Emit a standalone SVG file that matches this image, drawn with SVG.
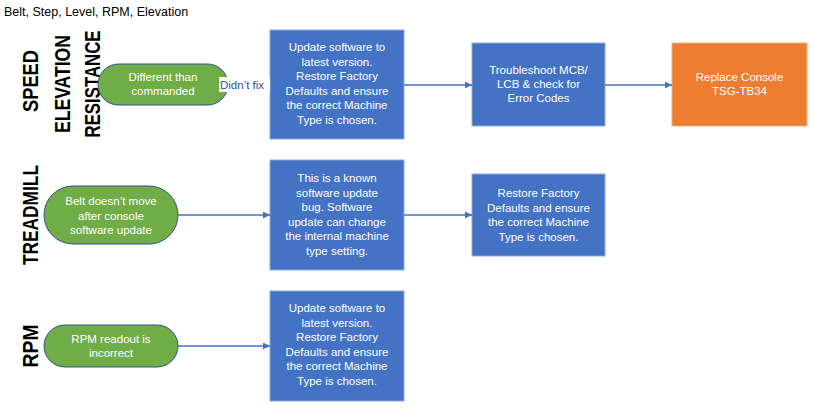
<svg xmlns="http://www.w3.org/2000/svg" width="814" height="411" viewBox="0 0 814 411">
<style>
.box{fill:#4472c4;stroke:#8eaadb;stroke-width:1}
.org{fill:#ed7d31;stroke:#f4b183;stroke-width:1}
.pill{fill:#70ad47;stroke:#2f528f;stroke-width:1}
.t{font-family:"Liberation Sans",Arial,sans-serif;font-size:11.5px;fill:#fff;text-anchor:middle}
.v{font-family:"Liberation Sans",Arial,sans-serif;font-weight:bold;font-size:22px;fill:#000;text-anchor:middle}
.c{stroke:#4472c4;stroke-width:1.3;fill:none;marker-end:url(#a)}
</style>
<defs><marker id="a" viewBox="0 0 10 10" refX="10" refY="5" markerWidth="7" markerHeight="7" orient="auto" markerUnits="userSpaceOnUse"><path d="M0,0L10,5L0,10z" fill="#4472c4"/></marker></defs>
<rect width="814" height="411" fill="#fff"/>
<text x="4" y="16" font-family="Liberation Sans,Arial,sans-serif" font-size="12.5">Belt, Step, Level, RPM, Elevation</text>
<g id="labels">
<text class="v" transform="translate(38,81) rotate(-90)" textLength="62" lengthAdjust="spacingAndGlyphs">SPEED</text>
<text class="v" transform="translate(70,84) rotate(-90)" textLength="98" lengthAdjust="spacingAndGlyphs">ELEVATION</text>
<text class="v" transform="translate(100,84) rotate(-90)" textLength="107" lengthAdjust="spacingAndGlyphs">RESISTANCE</text>
<text class="v" transform="translate(38,215) rotate(-90)" textLength="100" lengthAdjust="spacingAndGlyphs">TREADMILL</text>
<text class="v" transform="translate(38,346) rotate(-90)" textLength="43" lengthAdjust="spacingAndGlyphs">RPM</text>
</g>
<g id="n1"><rect class="pill" x="98" y="64" width="130" height="41" rx="20.5"/><text class="t" x="163" y="81">Different than</text><text class="t" x="163" y="95">commanded</text></g>
<g id="n2"><rect class="box" x="270" y="30" width="134" height="109"/><text class="t" x="337" y="51">Update software to</text><text class="t" x="337" y="65.5">latest version.</text><text class="t" x="337" y="80">Restore Factory</text><text class="t" x="337" y="94.5">Defaults and ensure</text><text class="t" x="337" y="109">the correct Machine</text><text class="t" x="337" y="123.5">Type is chosen.</text></g>
<g id="n3"><rect class="box" x="472" y="43" width="133" height="83"/><text class="t" x="538.5" y="74">Troubleshoot MCB/</text><text class="t" x="538.5" y="88">LCB &amp; check for</text><text class="t" x="538.5" y="102">Error Codes</text></g>
<g id="n4"><rect class="org" x="672" y="43" width="135" height="83"/><text class="t" x="739.5" y="81">Replace Console</text><text class="t" x="739.5" y="95">TSG-TB34</text></g>
<g id="n5"><rect class="pill" x="44" y="186" width="134" height="58" rx="29"/><text class="t" x="111" y="205">Belt doesn’t move</text><text class="t" x="111" y="219.5">after console</text><text class="t" x="111" y="234">software update</text></g>
<g id="n6"><rect class="box" x="270" y="160" width="134" height="110"/><text class="t" x="337" y="182">This is a known</text><text class="t" x="337" y="196.5">software update</text><text class="t" x="337" y="211">bug.  Software</text><text class="t" x="337" y="225.5">update can change</text><text class="t" x="337" y="240">the internal machine</text><text class="t" x="337" y="254.5">type setting.</text></g>
<g id="n7"><rect class="box" x="472" y="174" width="133" height="82"/><text class="t" x="538.5" y="197">Restore Factory</text><text class="t" x="538.5" y="211.5">Defaults and ensure</text><text class="t" x="538.5" y="226">the correct Machine</text><text class="t" x="538.5" y="240.5">Type is chosen.</text></g>
<g id="n8"><rect class="pill" x="44" y="325" width="134" height="42" rx="21"/><text class="t" x="111" y="343">RPM readout is</text><text class="t" x="111" y="357">incorrect</text></g>
<g id="n9"><rect class="box" x="270" y="291" width="134" height="110"/><text class="t" x="337" y="312">Update software to</text><text class="t" x="337" y="326.5">latest version.</text><text class="t" x="337" y="341">Restore Factory</text><text class="t" x="337" y="355.5">Defaults and ensure</text><text class="t" x="337" y="370">the correct Machine</text><text class="t" x="337" y="384.5">Type is chosen.</text></g>
<g id="connectors">
<line class="c" x1="228" y1="85" x2="270" y2="85"/>
<line class="c" x1="404" y1="85" x2="472" y2="85"/>
<line class="c" x1="605" y1="85" x2="672" y2="85"/>
<line class="c" x1="178" y1="215" x2="270" y2="215"/>
<line class="c" x1="404" y1="215" x2="472" y2="215"/>
<line class="c" x1="178" y1="346" x2="270" y2="346"/>
<rect x="219" y="77" width="51" height="15" fill="#fff"/>
<text x="220" y="89" font-family="Liberation Sans,Arial,sans-serif" font-size="11.5" fill="#2f5597">Didn’t fix</text>
</g>
</svg>
